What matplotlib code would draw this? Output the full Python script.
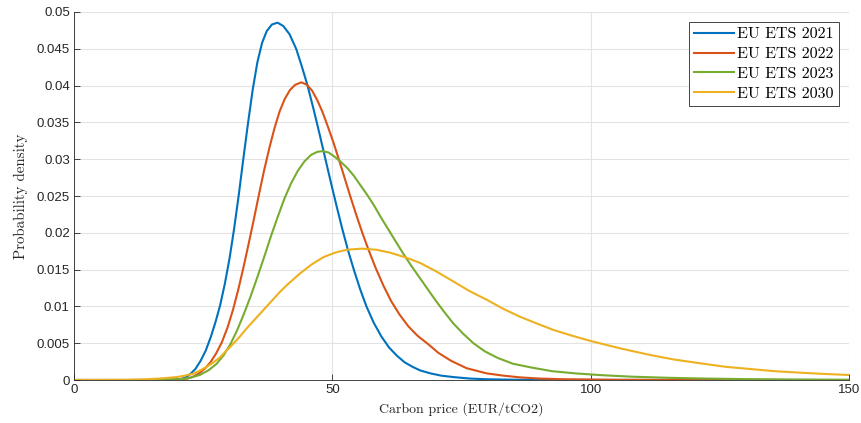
import matplotlib
matplotlib.use("Agg")
import matplotlib.pyplot as plt

# values
x2021 = [0, 15, 20.5, 21.5, 22.5, 23.5, 24.5, 25.5, 26.5, 27.4, 28.3, 29.2, 30.1, 31.0,
         31.9, 32.8, 33.7, 34.6, 35.5, 36.4, 37.3, 38.3, 39.4, 40.5, 41.7, 43.0, 44.1,
         45.2, 46.4, 47.5, 48.6, 49.7, 50.8, 51.9, 53.0, 54.2, 55.4, 56.6, 58.0, 59.5,
         61.0, 62.5, 64.0, 65.5, 67.0, 69, 71, 73.4, 76.5, 80, 85, 95, 150]
y2021 = [0, 0, 0.0001, 0.0003, 0.0008, 0.0015, 0.0026, 0.004, 0.0059, 0.0079, 0.0102,
         0.0131, 0.0165, 0.0206, 0.0252, 0.0302, 0.035, 0.0395, 0.0432, 0.0458, 0.0474,
         0.0483, 0.04855, 0.0481, 0.047, 0.045, 0.0426, 0.04, 0.0367, 0.0335, 0.0302,
         0.0269, 0.0237, 0.0206, 0.0177, 0.0149, 0.0123, 0.01, 0.0078, 0.0059, 0.0044,
         0.0033, 0.0024, 0.0018, 0.0013, 0.0009, 0.0006, 0.0004, 0.0002, 0.0001, 0.00004,
         0.00001, 0]

x2022 = [0, 15, 20, 22, 23.2, 24.4, 25.4, 26.4, 27.5, 28.6, 29.7, 30.8, 31.8, 32.8, 33.8,
         34.8, 35.8, 36.8, 37.8, 38.8, 39.8, 40.8, 41.8, 42.8, 44.0, 45.1, 46.1, 47.1,
         48.1, 49.1, 50.2, 51.3, 52.4, 53.5, 54.6, 55.8, 57.0, 58.4, 59.9, 61.4, 63.0,
         64.7, 66.5, 68.5, 70.5, 73, 76, 79.9, 83, 86.3, 90, 95, 105, 120, 150]
y2022 = [0, 0, 0.00005, 0.0002, 0.0005, 0.001, 0.0016, 0.0024, 0.0036, 0.0051, 0.0071,
         0.0096, 0.0123, 0.0153, 0.0185, 0.0218, 0.0252, 0.0285, 0.0315, 0.0342, 0.0365,
         0.0382, 0.0394, 0.0401, 0.04045, 0.0401, 0.0393, 0.038, 0.0364, 0.0345, 0.0323,
         0.0299, 0.0274, 0.0249, 0.0225, 0.02, 0.0177, 0.0152, 0.0128, 0.0107, 0.0089,
         0.0073, 0.006, 0.0049, 0.0037, 0.0026, 0.0016, 0.0009, 0.0006, 0.00036, 0.0002,
         0.0001, 0.00003, 0.00001, 0]

x2023 = [0, 15, 20.5, 22.5, 24.4, 26, 27.6, 29, 30.3, 31.6, 32.9, 34.2, 35.5, 36.8, 38.1,
         39.4, 40.7, 42.0, 43.3, 44.6, 45.9, 47.1, 48.1, 49.3, 50.5, 51.7, 52.9, 54.1,
         55.4, 56.7, 58.0, 59.4, 60.8, 62.2, 63.7, 65.2, 66.7, 68.3, 69.9, 71.6, 73.4,
         75.3, 77.3, 79.5, 82, 85, 88.5, 92.5, 97, 102, 108, 115, 122, 130, 140, 150]
y2023 = [0, 0, 0.0001, 0.0003, 0.0007, 0.0013, 0.0022, 0.0034, 0.0049, 0.0068, 0.009,
         0.0114, 0.014, 0.0167, 0.0195, 0.0221, 0.0246, 0.0267, 0.0284, 0.0297, 0.0306,
         0.031, 0.0311, 0.0309, 0.0303, 0.0296, 0.0288, 0.0278, 0.0265, 0.0252, 0.0238,
         0.0221, 0.0205, 0.0189, 0.0172, 0.0156, 0.0141, 0.0125, 0.0109, 0.0093, 0.0077,
         0.0063, 0.005, 0.0039, 0.003, 0.0022, 0.0017, 0.0012, 0.0009, 0.00066, 0.00045,
         0.0003, 0.0002, 0.00012, 0.00006, 0.00003]

x2030 = [0, 10, 14, 16.6, 18.3, 19.9, 21.5, 23.1, 24.4, 25.7, 27, 28.3, 29.5, 30.8, 32.1,
         33.4, 34.7, 36.0, 37.3, 38.6, 39.9, 41.2, 42.5, 43.7, 46, 48.3, 50.5, 52.8, 55.7,
         58.5, 61.2, 64.4, 67.0, 70, 73.4, 76.5, 79.9, 83, 86.3, 89.5, 92.8, 96.5, 100,
         105.7, 111.5, 116, 121.2, 126, 130.8, 135.5, 140.5, 145, 150]
y2030 = [0, 0.00002, 0.0001, 0.0002, 0.0003, 0.0004, 0.0006, 0.00086, 0.0013, 0.0018,
         0.0024, 0.0031, 0.004, 0.0049, 0.0059, 0.007, 0.008, 0.009, 0.01, 0.011, 0.012,
         0.0129, 0.0137, 0.01445, 0.0157, 0.0167, 0.0173, 0.0177, 0.01785, 0.0177, 0.0173,
         0.0166, 0.0159, 0.0148, 0.0134, 0.0121, 0.0109, 0.0097, 0.0086, 0.0077, 0.0068,
         0.006, 0.0053, 0.0043, 0.0034, 0.0028, 0.00227, 0.0018, 0.0015, 0.0012, 0.001,
         0.00083, 0.00068]

labels = ["EU ETS 2021", "EU ETS 2022", "EU ETS 2023", "EU ETS 2030"]
colors = ["#0072BD", "#D95319", "#77AC30", "#EDB120"]
yticks = [0, 0.005, 0.01, 0.015, 0.02, 0.025, 0.03, 0.035, 0.04, 0.045, 0.05]
ytick_labels = ["0", "0.005", "0.01", "0.015", "0.02", "0.025", "0.03", "0.035", "0.04",
                "0.045", "0.05"]
xticks = [0, 50, 100, 150]

fig = plt.figure(figsize=(8.61, 4.23), dpi=100)
ax = fig.add_axes([74 / 861, 43 / 423, 775 / 861, 368 / 423])

series = [(x2021, y2021), (x2022, y2022), (x2023, y2023), (x2030, y2030)]
for (xs, ys), lab, c in zip(series, labels, colors):
    ax.plot(xs, ys, color=c, lw=1.5, label=lab, solid_joinstyle="round")

ax.set_xlim(0, 150)
ax.set_ylim(0, 0.05)
ax.set_xticks(xticks)
ax.set_xticklabels([str(t) for t in xticks], family="Liberation Sans", fontsize=9.5,
                   color="#262626")
ax.set_yticks(yticks)
ax.set_yticklabels(ytick_labels, family="Liberation Sans", fontsize=9.5, color="#262626")
ax.tick_params(direction="in", length=4, width=0.6, color="#262626", pad=3)
ax.grid(True, color="#e3e3e3", lw=0.8)
ax.set_axisbelow(True)
for s in ["top", "right"]:
    ax.spines[s].set_visible(False)
for s in ["left", "bottom"]:
    ax.spines[s].set_color("#262626")
    ax.spines[s].set_linewidth(0.6)

ax.set_xlabel("Carbon price (EUR/tCO2)", family="cmr10", fontsize=10, color="#262626",
              labelpad=4)
ax.set_ylabel("Probability density", family="cmr10", fontsize=10.8, color="#262626",
              labelpad=6)

leg = ax.legend(loc="upper right", prop={"family": "cmr10", "size": 11.5}, fancybox=False,
                framealpha=1, edgecolor="#262626", handlelength=2.5, handletextpad=0.2,
                borderaxespad=0.6, borderpad=0.35, labelspacing=0.35)
leg.get_frame().set_linewidth(0.6)

fig.savefig("out.png", dpi=100)
